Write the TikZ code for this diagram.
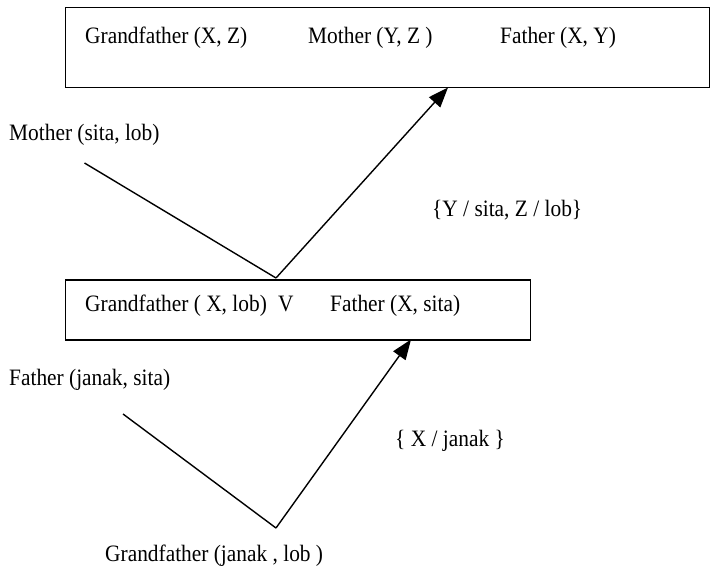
\documentclass[tikz,border=0pt]{standalone}
\usepackage{fontspec}
\setmainfont[FakeStretch=0.91]{Liberation Serif}
\usetikzlibrary{arrows.meta}
\begin{document}
\begin{tikzpicture}[x=1pt,y=-1pt,
  lbl/.style={anchor=base west,inner sep=0pt,font=\fontsize{23.5}{26}\selectfont},
  boxx/.style={draw,line width=1.6pt,anchor=north west,inner sep=0pt},
  conn/.style={line width=1.4pt},
  arr/.style={conn,-{Triangle[length=20pt,width=15pt]}}]
\useasboundingbox (0,0) rectangle (712,567);
% boxes
\node[boxx,minimum width=644pt,minimum height=80pt] (top) at (64.5,6.7) {};
\node[boxx,minimum width=465pt,minimum height=60pt] (mid) at (64.5,279) {};
% texts in top box
\node[lbl] (t1) at (85,44) {Grandfather (X, Z)};
\node[lbl] (t2) at (308,44) {Mother (Y, Z )};
\node[lbl] (t3) at (500,44) {Father (X, Y)};
% middle side texts
\node[lbl] (m1) at (9,140) {Mother (sita, lob)};
\node[lbl] (s1) at (432,216) {\{Y / sita, Z / lob\}};
% texts in middle box
\node[lbl] (b1) at (85,311.5) {Grandfather ( X, lob)};
\node[lbl] (b2) at (278,311.5) {V};
\node[lbl] (b3) at (330,311.5) {Father (X, sita)};
% lower texts
\node[lbl] (f1) at (9,385.5) {Father (janak, sita)};
\node[lbl] (s2) at (395,446) {\{ X / janak \}};
\node[lbl] (g1) at (105,561.5) {Grandfather (janak , lob )};
% connector points
\coordinate (a1) at (84.5,163);
\coordinate (v1) at (276,278);
\coordinate (h1) at (448,87.5);
\coordinate (a2) at (123,414);
\coordinate (v2) at (276,528);
\coordinate (h2) at (411,339.5);
\draw[conn] (a1) -- (v1);
\draw[arr] (v1) -- (h1);
\draw[conn] (a2) -- (v2);
\draw[arr] (v2) -- (h2);
\end{tikzpicture}
\end{document}
